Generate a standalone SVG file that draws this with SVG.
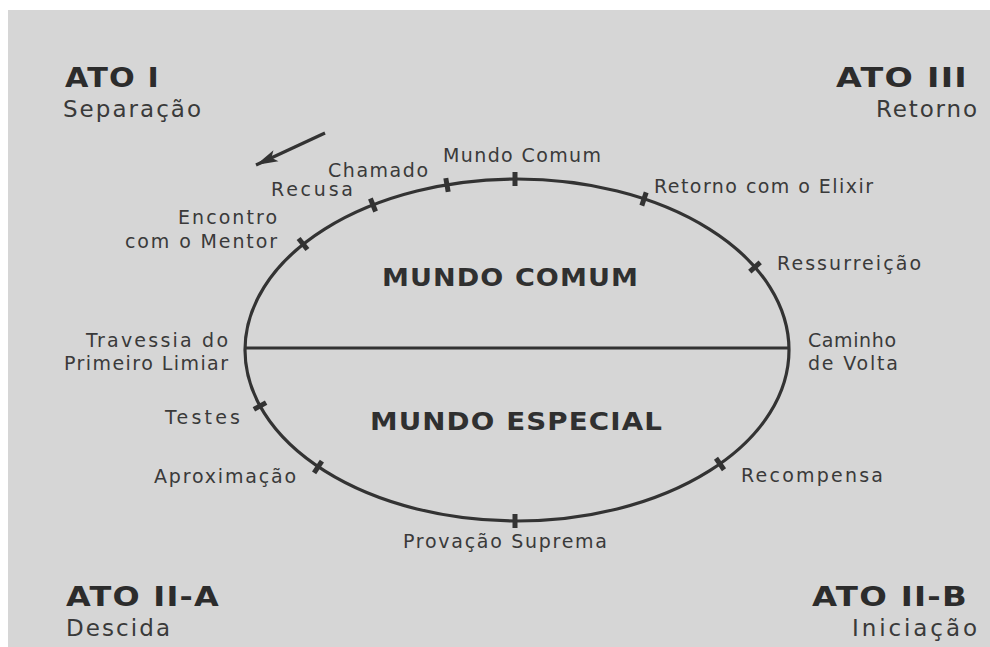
<svg xmlns="http://www.w3.org/2000/svg" width="990" height="647" viewBox="0 0 990 647">
<style>
.lbl{font-family:"DejaVu Sans","Liberation Sans",sans-serif;font-size:19px;fill:#3a3a3a}
.act{font-family:"DejaVu Sans","Liberation Sans",sans-serif;font-size:26px;font-weight:bold;fill:#2c2c2c;letter-spacing:1px}
.sub{font-family:"DejaVu Sans","Liberation Sans",sans-serif;font-size:23px;fill:#3a3a3a}
.world{font-family:"DejaVu Sans","Liberation Sans",sans-serif;font-size:25px;font-weight:bold;fill:#303030;letter-spacing:1px}
.tick{stroke:#333;stroke-width:5;stroke-linecap:butt}
.line{stroke:#333;stroke-width:3.2;fill:none}
</style>
<defs>
<marker id="ah" markerUnits="userSpaceOnUse" markerWidth="24" markerHeight="16" refX="22" refY="8" orient="auto">
<path d="M0,2 L22,8 L0,14 L5,8 Z" fill="#333"/>
</marker>
</defs>
<rect x="0" y="0" width="990" height="647" fill="#ffffff"/>
<rect x="8" y="10" width="982" height="637" fill="#d6d6d6"/>

<g id="acts">
<g id="ato1"><text class="act" x="65" y="87" textLength="95" lengthAdjust="spacingAndGlyphs">ATO I</text>
<text class="sub" x="63" y="117" textLength="138" lengthAdjust="spacing">Separação</text></g>
<g id="ato3"><text class="act" x="968" y="87" text-anchor="end" textLength="132" lengthAdjust="spacingAndGlyphs">ATO III</text>
<text class="sub" x="977" y="117" text-anchor="end" textLength="101" lengthAdjust="spacing">Retorno</text></g>
<g id="ato2a"><text class="act" x="66" y="606" textLength="154" lengthAdjust="spacingAndGlyphs">ATO II-A</text>
<text class="sub" x="66" y="636" textLength="104" lengthAdjust="spacing">Descida</text></g>
<g id="ato2b"><text class="act" x="968" y="606" text-anchor="end" textLength="156" lengthAdjust="spacingAndGlyphs">ATO II-B</text>
<text class="sub" x="977" y="636" text-anchor="end" textLength="125" lengthAdjust="spacing">Iniciação</text></g>
</g>

<g id="connectors">
<ellipse class="line" cx="517" cy="350" rx="272" ry="171"/>
<line class="line" x1="245" y1="348" x2="789" y2="348"/>
<line class="line" x1="325" y1="133" x2="256" y2="165" marker-end="url(#ah)"/>
</g>

<g id="worlds">
<g id="mundo-comum-area"><text class="world" x="382" y="286" textLength="257" lengthAdjust="spacingAndGlyphs">MUNDO COMUM</text></g>
<g id="mundo-especial-area"><text class="world" x="370" y="430" textLength="293" lengthAdjust="spacingAndGlyphs">MUNDO ESPECIAL</text></g>
</g>

<g id="n-mundo-comum"><line class="tick" x1="515" y1="172" x2="515" y2="186"/><text class="lbl" x="443" y="162" textLength="158" lengthAdjust="spacing">Mundo Comum</text></g>
<g id="n-chamado"><line class="tick" x1="445.8" y1="178.1" x2="448.2" y2="191.9"/><text class="lbl" x="328" y="177" textLength="100" lengthAdjust="spacing">Chamado</text></g>
<g id="n-recusa"><line class="tick" x1="370.4" y1="198.5" x2="375.6" y2="211.5"/><text class="lbl" x="271" y="196" textLength="82" lengthAdjust="spacing">Recusa</text></g>
<g id="n-mentor"><line class="tick" x1="298.6" y1="238.5" x2="307.4" y2="249.5"/><text class="lbl" x="277" y="224" text-anchor="end" textLength="99" lengthAdjust="spacing">Encontro</text><text class="lbl" x="277" y="248" text-anchor="end" textLength="152" lengthAdjust="spacing">com o Mentor</text></g>
<g id="n-travessia"><text class="lbl" x="228" y="347" text-anchor="end" textLength="142" lengthAdjust="spacing">Travessia do</text><text class="lbl" x="228" y="370" text-anchor="end" textLength="164" lengthAdjust="spacing">Primeiro Limiar</text></g>
<g id="n-testes"><line class="tick" x1="253.9" y1="409.4" x2="266.1" y2="402.6"/><text class="lbl" x="165" y="424" textLength="75" lengthAdjust="spacing">Testes</text></g>
<g id="n-aproximacao"><line class="tick" x1="314.1" y1="472.8" x2="321.9" y2="461.2"/><text class="lbl" x="154" y="483" textLength="142" lengthAdjust="spacing">Aproximação</text></g>
<g id="n-provacao"><line class="tick" x1="515" y1="514" x2="515" y2="528"/><text class="lbl" x="403" y="548" textLength="204" lengthAdjust="spacing">Provação Suprema</text></g>
<g id="n-recompensa"><line class="tick" x1="716" y1="458.3" x2="724" y2="469.7"/><text class="lbl" x="741" y="482" textLength="142" lengthAdjust="spacing">Recompensa</text></g>
<g id="n-caminho"><text class="lbl" x="808" y="347" textLength="88" lengthAdjust="spacing">Caminho</text><text class="lbl" x="808" y="370" textLength="90" lengthAdjust="spacing">de Volta</text></g>
<g id="n-ressurreicao"><line class="tick" x1="749.8" y1="271.6" x2="760.2" y2="262.4"/><text class="lbl" x="777" y="270" textLength="144" lengthAdjust="spacing">Ressurreição</text></g>
<g id="n-elixir"><line class="tick" x1="641.8" y1="205.6" x2="646.2" y2="192.4"/><text class="lbl" x="654" y="193" textLength="219" lengthAdjust="spacing">Retorno com o Elixir</text></g>
</svg>
